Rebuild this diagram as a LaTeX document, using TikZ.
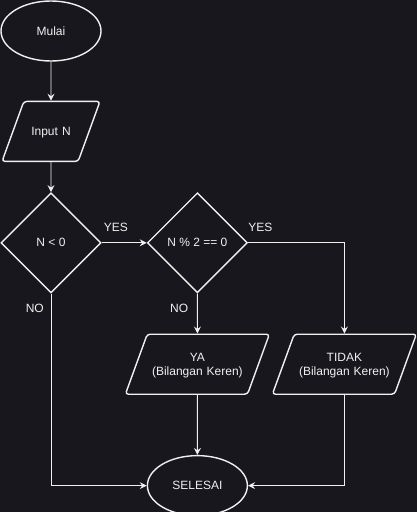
\documentclass[tikz,border=0pt]{standalone}
\usepackage{fontspec}
\setmainfont{Liberation Sans}
\usetikzlibrary{arrows.meta,shapes.geometric}
\usetikzlibrary{positioning}
\definecolor{bgdark}{RGB}{24,23,29}
\definecolor{ink}{RGB}{240,240,240}
\tikzstyle{terminal} = [ellipse, minimum width=100pt, minimum height=60pt, inner sep=0pt, draw=ink, line width=1.4pt, text=ink]
\tikzstyle{io} = [trapezium, trapezium left angle=70, trapezium right angle=110, inner sep=0pt, text height=34.3pt, text depth=25.7pt, rounded corners=3pt, draw=ink, line width=1.4pt, text=ink, align=center]
\tikzstyle{iotwo} = [io, text height=27.3pt, text depth=32.7pt]
\tikzstyle{decision} = [diamond, aspect=1, minimum width=100pt, minimum height=100pt, inner sep=0pt, draw=ink, line width=1.4pt, text=ink]
\tikzstyle{lbl} = [inner sep=0pt, text=ink]
\tikzstyle{line} = [draw=ink, line width=0.9pt, -{Stealth[length=7pt, width=7pt, inset=2.5pt]}]

\begin{document}
\begin{tikzpicture}[x=1pt, y=1pt, node distance=30pt, font=\fontsize{12pt}{14pt}\selectfont]

\fill[bgdark] (-51,31) rectangle (366,-481);
\useasboundingbox (-51,31) rectangle (366,-481);

\node (mulai) [terminal] at (0,0) {Mulai};
\node (input) [io, text width=54.3pt, below=39pt of mulai] {Input N};
\node (cek1) [decision, below=30pt of input] {N {\textless} 0};
\node (cek2) [decision, right=45pt of cek1] {N \% 2 == 0};
\node (ya) [iotwo, text width=100.3pt, below=40pt of cek2] {YA\\(Bilangan Keren)};
\node (tidak) [iotwo, text width=100.3pt, right=147pt of ya.center, anchor=center] {TIDAK\\(Bilangan Keren)};
\node (selesai) [terminal, below=60pt of ya] {SELESAI};

\node (yes1) [lbl, above right=11pt and 2pt of cek1.east, anchor=south west] {YES};
\node (yes2) [lbl, above right=11pt and 0pt of cek2.east, anchor=south west] {YES};
\node (no1) [lbl, below left=10pt and 7pt of cek1.south, anchor=north east] {NO};
\node (no2) [lbl, below left=10pt and 9pt of cek2.south, anchor=north east] {NO};

\draw[line] (mulai) -- (input);
\draw[line] (input) -- (cek1);
\draw[line] (cek1) -- (cek2);
\draw[line] (cek2.east) -| (tidak.north);
\draw[line] (cek2) -- (ya);
\draw[line] (cek1.south) |- (selesai.west);
\draw[line] (ya) -- (selesai);
\draw[line] (tidak.south) |- (selesai.east);
\end{tikzpicture}
\end{document}
